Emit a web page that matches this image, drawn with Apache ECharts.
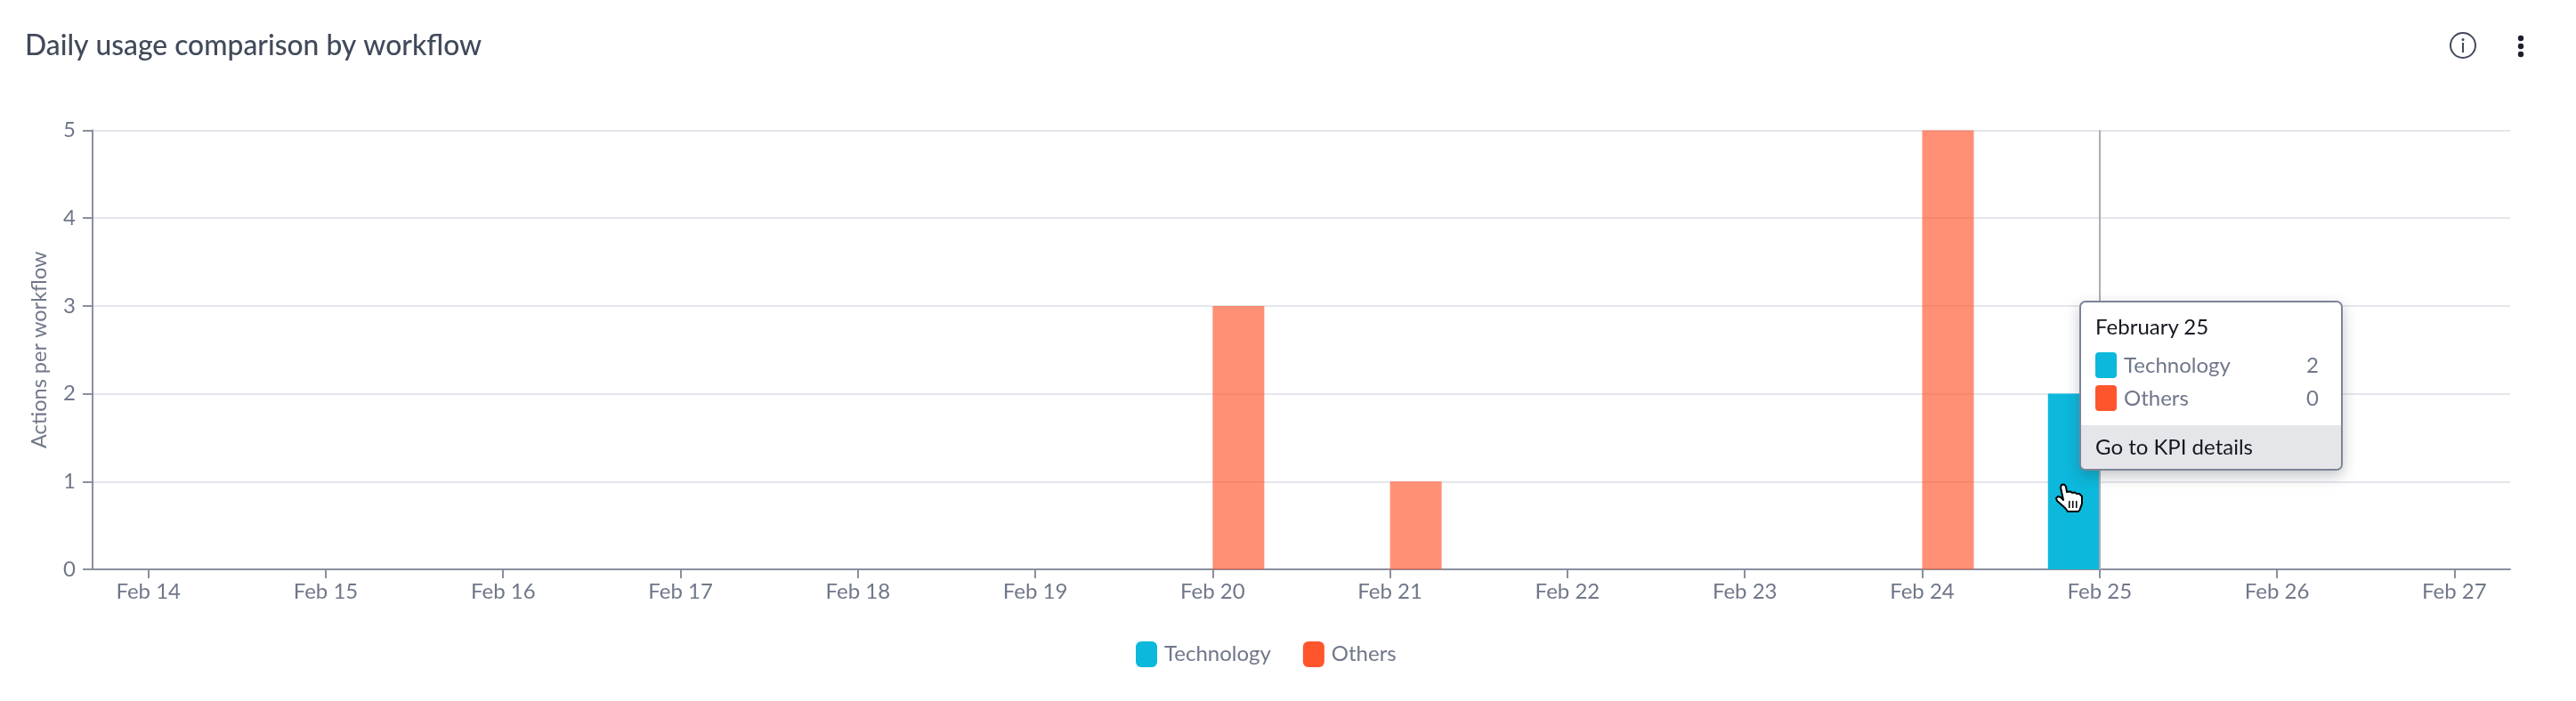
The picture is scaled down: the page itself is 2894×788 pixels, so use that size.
<!DOCTYPE html>
<html>
<head>
<meta charset="utf-8">
<title>Daily usage comparison by workflow</title>
<script src="https://cdn.jsdelivr.net/npm/echarts@6/dist/echarts.min.js"></script>
<style>
  html, body { margin: 0; padding: 0; background: #fff; }
  #chart { width: 2894px; height: 788px; }
</style>
</head>
<body>
<div id="chart"></div>
<script>
// Daily actions per workflow, one entry per day.
const days = ['Feb 14','Feb 15','Feb 16','Feb 17','Feb 18','Feb 19','Feb 20','Feb 21','Feb 22','Feb 23','Feb 24','Feb 25','Feb 26','Feb 27'];
const longDays = ['February 14','February 15','February 16','February 17','February 18','February 19','February 20','February 21','February 22','February 23','February 24','February 25','February 26','February 27'];
const technology = [0,0,0,0,0,0,0,0,0,0,0,2,0,0];
const others = [0,0,0,0,0,0,3,1,0,0,5,0,0,0];
const yTicks = [0,1,2,3,4,5];
const selectedDay = 11;

const TECH_COLOR = '#0CB8DC';
const OTHER_COLOR = '#FF552D';
const FONT = 'Lato, "Open Sans", sans-serif';
const LABEL_COLOR = '#6F7789';
const AXIS_COLOR = '#8A8F9E';

const dayIndexes = days.map((_, i) => i);
const asPoints = values => values.map((v, i) => [i, v]);

function swatchRow(color, name, value) {
  return '<div style="display:flex;align-items:center;height:37px;">' +
    '<span style="width:24px;height:29px;border-radius:4px;background:' + color + ';margin-right:8px;"></span>' +
    '<span style="color:' + LABEL_COLOR + ';flex:1;position:relative;top:-1px;">' + name + '</span>' +
    '<span style="color:' + LABEL_COLOR + ';position:relative;top:-1px;">' + value + '</span></div>';
}

const chart = echarts.init(document.getElementById('chart'));
chart.setOption({
  animation: false,
  backgroundColor: '#fff',
  textStyle: { fontFamily: FONT },
  title: {
    text: 'Daily usage comparison by workflow',
    left: 28, top: 36, padding: 0,
    textStyle: { fontFamily: FONT, fontSize: 31.8, fontWeight: 500, color: '#414A5A' }
  },
  grid: { left: 104, right: 74, top: 146.5, bottom: 148 },
  legend: {
    left: 1276, top: 721, padding: 0,
    icon: 'roundRect',
    itemWidth: 24, itemHeight: 29, itemGap: 36,
    itemStyle: { opacity: 1 },
    selectedMode: false,
    textStyle: { fontFamily: FONT, fontSize: 24, color: LABEL_COLOR, padding: [0, 0, 0, 3] },
    data: ['Technology', 'Others']
  },
  xAxis: {
    type: 'value',
    min: -0.3146, max: 13.3146,
    splitLine: { show: false },
    axisLine: { show: true, onZero: false, lineStyle: { color: AXIS_COLOR, width: 2 } },
    axisTick: { show: true, length: 10, customValues: dayIndexes, lineStyle: { color: AXIS_COLOR, width: 2 } },
    axisLabel: {
      margin: 13, fontFamily: FONT, fontSize: 24, color: LABEL_COLOR,
      customValues: dayIndexes,
      formatter: v => days[Math.round(v)]
    }
  },
  yAxis: {
    type: 'value',
    min: yTicks[0], max: yTicks[yTicks.length - 1], interval: 1,
    name: 'Actions per workflow',
    nameLocation: 'middle', nameGap: 48,
    nameTextStyle: { fontFamily: FONT, fontSize: 23.5, color: LABEL_COLOR },
    axisLine: { show: true, onZero: false, lineStyle: { color: AXIS_COLOR, width: 2 } },
    axisTick: { show: true, length: 11, lineStyle: { color: AXIS_COLOR, width: 2 } },
    axisLabel: { margin: 19, fontFamily: FONT, fontSize: 24, color: LABEL_COLOR },
    splitLine: { show: true, lineStyle: { color: '#E5E6EC', width: 2 } }
  },
  tooltip: {
    trigger: 'axis',
    alwaysShowContent: true,
    transitionDuration: 0,
    padding: 0,
    borderWidth: 0,
    backgroundColor: 'transparent',
    extraCssText: 'box-shadow:none;',
    axisPointer: { type: 'line', snap: true, z: 5, lineStyle: { color: '#A9ACB5', width: 2, type: 'solid', opacity: 1 }, label: { show: false } },
    position: () => [2336, 338],
    formatter: params => {
      const i = params[0].value[0];
      return '<div style="box-sizing:border-box;width:296px;height:191px;background:#fff;border:2px solid #7C8496;border-radius:7px;overflow:hidden;font:24px ' + FONT.replace(/"/g, "'") + ';box-shadow:0 6px 16px rgba(40,45,60,0.28);">' +
        '<div style="padding:11px 25px 0 16px;height:138px;box-sizing:border-box;">' +
        '<div style="color:#14171F;height:32px;line-height:32px;margin-bottom:9px;">' + longDays[i] + '</div>' +
        swatchRow(TECH_COLOR, 'Technology', technology[i]) +
        swatchRow(OTHER_COLOR, 'Others', others[i]) +
        '</div>' +
        '<div style="background:#E5E6EA;height:50px;line-height:47px;padding-left:16px;color:#14171F;">Go to KPI details</div>' +
        '</div>';
    }
  },
  series: [
    { name: 'Technology', type: 'bar', barWidth: 58, barGap: 0, data: asPoints(technology), itemStyle: { color: TECH_COLOR }, emphasis: { disabled: true } },
    { name: 'Others', type: 'bar', barWidth: 58, barGap: 0, data: asPoints(others), itemStyle: { color: OTHER_COLOR, opacity: 0.65 }, emphasis: { disabled: true } }
  ],
  graphic: [
    // Header actions: info badge and overflow menu
    { type: 'circle', shape: { cx: 2767, cy: 51, r: 14 }, style: { fill: 'none', stroke: '#414A5A', lineWidth: 2 } },
    { type: 'circle', shape: { cx: 2767, cy: 44.5, r: 1.5 }, style: { fill: '#414A5A' } },
    { type: 'rect', shape: { x: 2766, y: 48, width: 2, height: 11 }, style: { fill: '#414A5A' } },
    { type: 'circle', shape: { cx: 2832, cy: 43, r: 3.2 }, style: { fill: '#1B1F2A' } },
    { type: 'circle', shape: { cx: 2832, cy: 52, r: 3.2 }, style: { fill: '#1B1F2A' } },
    { type: 'circle', shape: { cx: 2832, cy: 61, r: 3.2 }, style: { fill: '#1B1F2A' } },
    // Hand pointer over the hovered bar
    {
      type: 'group', x: 2295, y: 530,
      children: [
        {
          type: 'polygon', z: 100,
          shape: { points: [[21,15],[24,14.5],[26,17],[27,23],[31,22.5],[33,24],[36,23.5],[38,25],[41,25],[44,28],[44,36],[41.5,43],[40,45],[28,45],[25,41],[16,33],[15,30],[17,28],[20,29],[23,32],[20,18]] },
          style: { fill: '#fff', stroke: '#000', lineWidth: 2, lineJoin: 'round' }
        },
        { type: 'rect', z: 101, shape: { x: 29, y: 33, width: 1.5, height: 8 }, style: { fill: '#000' } },
        { type: 'rect', z: 101, shape: { x: 33, y: 33, width: 1.5, height: 8 }, style: { fill: '#000' } },
        { type: 'rect', z: 101, shape: { x: 37, y: 33, width: 1.5, height: 8 }, style: { fill: '#000' } }
      ]
    }
  ]
});

chart.dispatchAction({ type: 'showTip', seriesIndex: 0, dataIndex: selectedDay });
</script>
</body>
</html>
